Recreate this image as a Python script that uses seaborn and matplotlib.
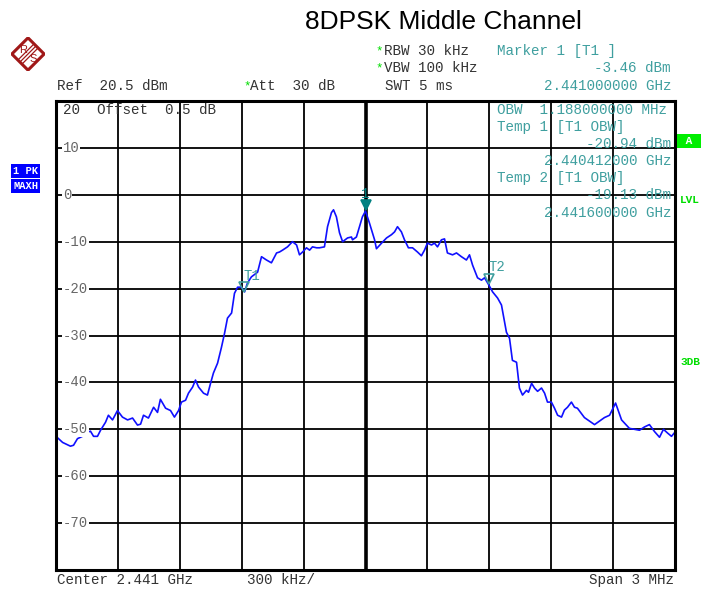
import numpy as np
import pandas as pd
import matplotlib
matplotlib.use("Agg")
import matplotlib.pyplot as plt
import matplotlib.patches as mpatches
import seaborn as sns

# trace: frequency offset from center (MHz) and level (dBm)
freq_offset_mhz = [
    -1.500, -1.468, -1.430, -1.415, -1.396, -1.372, -1.347, -1.333, -1.318, -1.299,
    -1.284, -1.260, -1.246, -1.226, -1.202, -1.178, -1.153, -1.129, -1.105, -1.090,
    -1.076, -1.052, -1.027, -1.008, -0.994, -0.969, -0.945, -0.926, -0.906, -0.892,
    -0.872, -0.858, -0.838, -0.824, -0.809, -0.785, -0.766, -0.751, -0.737, -0.717,
    -0.698, -0.683, -0.669, -0.649, -0.635, -0.620, -0.601, -0.586, -0.572, -0.553,
    -0.523, -0.504, -0.480, -0.456, -0.431, -0.417, -0.402, -0.378, -0.354, -0.334,
    -0.320, -0.305, -0.286, -0.271, -0.257, -0.237, -0.223, -0.199, -0.184, -0.165,
    -0.155, -0.141, -0.126, -0.111, -0.087, -0.068, -0.063, -0.044, -0.029, -0.015,
    0.000, 0.019, 0.044, 0.053, 0.078, 0.102, 0.126, 0.141, 0.155, 0.174,
    0.189, 0.208, 0.228, 0.252, 0.271, 0.286, 0.300, 0.320, 0.334, 0.349,
    0.368, 0.383, 0.397, 0.422, 0.441, 0.465, 0.489, 0.504, 0.519, 0.543,
    0.562, 0.577, 0.596, 0.616, 0.640, 0.659, 0.674, 0.683, 0.698, 0.712,
    0.732, 0.746, 0.761, 0.780, 0.790, 0.805, 0.819, 0.834, 0.853, 0.868,
    0.882, 0.901, 0.916, 0.931, 0.950, 0.964, 0.979, 0.998, 1.013, 1.027,
    1.061, 1.110, 1.158, 1.183, 1.212, 1.241, 1.279, 1.328, 1.352, 1.376,
    1.401, 1.425, 1.444, 1.464, 1.483, 1.500,
]
level_dbm = [
    -51.5, -52.8, -53.6, -53.4, -52.0, -51.5, -50.6, -50.4, -51.5, -51.5,
    -50.2, -48.5, -47.0, -48.0, -46.0, -47.4, -48.0, -47.6, -49.1, -48.9,
    -47.0, -47.6, -45.3, -46.4, -43.6, -45.5, -46.0, -47.4, -46.0, -44.2,
    -43.8, -42.3, -41.0, -39.5, -41.0, -42.3, -42.7, -40.2, -38.0, -35.9,
    -32.5, -29.5, -26.3, -25.2, -21.0, -19.7, -19.7, -20.7, -18.8, -17.5,
    -16.5, -13.2, -13.9, -14.5, -12.4, -12.2, -11.8, -11.1, -10.0, -10.7,
    -12.8, -12.2, -11.3, -11.8, -11.1, -11.3, -11.3, -11.1, -6.8, -3.8,
    -3.2, -4.7, -8.1, -10.0, -9.2, -9.0, -9.6, -9.0, -6.8, -4.7,
    -3.46, -6.0, -9.6, -11.5, -10.3, -9.2, -8.5, -7.9, -6.8, -7.9,
    -9.6, -11.3, -11.3, -12.2, -13.0, -11.8, -10.3, -10.7, -10.3, -11.1,
    -9.6, -9.4, -12.4, -12.8, -12.4, -13.2, -13.9, -12.8, -15.0, -17.7,
    -18.2, -17.7, -19.1, -20.7, -22.0, -23.5, -27.1, -29.3, -30.6, -35.3,
    -35.7, -41.2, -42.7, -41.7, -42.1, -40.2, -41.2, -41.9, -41.2, -42.3,
    -44.2, -44.2, -45.5, -47.0, -47.4, -45.9, -45.3, -44.2, -45.3, -45.5,
    -47.5, -49.0, -47.5, -47.0, -44.4, -48.0, -49.8, -50.2, -49.5, -49.0,
    -50.5, -51.7, -50.0, -50.8, -51.5, -50.6,
]

# markers: T1, 1, T2
marker_names = ["T1", "1", "T2"]
marker_offset_mhz = [-0.588, 0.0, 0.600]
marker_level_dbm = [-20.94, -3.46, -19.13]

y_ticks = [10, 0, -10, -20, -30, -40, -50, -60, -70]

trace = pd.DataFrame({"offset": freq_offset_mhz, "level": level_dbm})

sns.set_style("white")
mono = "Liberation Mono"
plt.rcParams["font.family"] = ["Liberation Sans", "DejaVu Sans"]

W, H = 704, 590
fig = plt.figure(figsize=(W / 100, H / 100), dpi=100)
ax = fig.add_axes([56 / W, 20 / H, 619 / W, 469 / H])

# grid
for x in np.linspace(-1.5, 1.5, 11)[1:-1]:
    ax.axvline(x, color="black", lw=2.6 if abs(x) < 1e-9 else 1.3, zorder=1)
for y in range(-70, 20, 10):
    ax.axhline(y, color="black", lw=1.3, zorder=1)

sns.lineplot(data=trace, x="offset", y="level", color="#1010ff", lw=1.2,
             ax=ax, zorder=3, estimator=None, sort=False)

ax.set_xlim(-1.5, 1.5)
ax.set_ylim(-80, 20)
ax.set_xticks([])
ax.set_yticks([])
ax.set_xlabel("")
ax.set_ylabel("")
for s in ax.spines.values():
    s.set_visible(True)
    s.set_color("black")
    s.set_linewidth(2.2)
    s.set_zorder(6)

teal = "#3f9f9f"
gray = "#333333"
for yv in y_ticks:
    ax.text(0.011, yv, str(yv), transform=ax.get_yaxis_transform(),
            ha="left", va="center", family=mono, fontsize=10, color="#666666", zorder=5,
            bbox=dict(facecolor="white", edgecolor="none", pad=0.6))

# markers
for name, mx, my in zip(marker_names, marker_offset_mhz, marker_level_dbm):
    filled = name == "1"
    col = "#008080" if filled else teal
    ax.plot(mx, my + 1.2, marker="v", ms=7, mfc=col if filled else "none", mec=col,
            mew=1.2, zorder=5)
    ax.text(mx - (0.005 if not filled else 0), my + 2.2, name,
            ha="center" if filled else "left", va="bottom", family=mono, fontsize=10,
            color=col, zorder=5)

# text inside grid
ax.text(7 / 619, 1 - 9 / 469, "20  Offset  0.5 dB", transform=ax.transAxes, family=mono,
        fontsize=10.3, color=gray, va="center", ha="left", zorder=4)

def ftext(x, y, s, **kw):
    kw.setdefault("family", mono)
    kw.setdefault("fontsize", 10.3)
    kw.setdefault("va", "center")
    fig.text(x / W, 1 - y / H, s, **kw)

obw_lines = [
    (497, 110, "OBW  1.188000000 MHz", "left"),
    (497, 127, "Temp 1 [T1 OBW]", "left"),
    (671, 144, "-20.94 dBm", "right"),
    (671, 161, "2.440412000 GHz", "right"),
    (497, 178, "Temp 2 [T1 OBW]", "left"),
    (671, 195, "-19.13 dBm", "right"),
    (671, 213, "2.441600000 GHz", "right"),
]
for x, y, s, ha in obw_lines:
    ftext(x, y, s, ha=ha, color=teal, zorder=4)

# header
ftext(443, 22, "8DPSK Middle Channel", family="Liberation Sans", fontsize=19, color="black",
      ha="center")
ftext(57, 86, "Ref  20.5 dBm", color=gray)
ftext(243, 86, "*", color="#00dd00", fontsize=9)
ftext(250, 86, "Att  30 dB", color=gray)
ftext(375, 51, "*", color="#00dd00", fontsize=9)
ftext(384, 51, "RBW 30 kHz", color=gray)
ftext(375, 68, "*", color="#00dd00", fontsize=9)
ftext(384, 68, "VBW 100 kHz", color=gray)
ftext(385, 86, "SWT 5 ms", color=gray)
ftext(497, 51, "Marker 1 [T1 ]", color=teal)
ftext(671, 68, "-3.46 dBm", color=teal, ha="right")
ftext(671, 86, "2.441000000 GHz", color=teal, ha="right")

# footer
ftext(57, 580, "Center 2.441 GHz", color=gray)
ftext(247, 580, "300 kHz/", color=gray)
ftext(674, 580, "Span 3 MHz", color=gray, ha="right")

# side badges
ftext(689, 141, " A ", color="white", fontsize=8, weight="bold", ha="center",
      bbox=dict(facecolor="#00ee00", edgecolor="none", pad=1.5))
ftext(680, 200, "LVL", color="#00dd00", fontsize=8, weight="bold")
ftext(680, 362, "3DB", color="#00dd00", fontsize=8, weight="bold")
ftext(13, 171, "1 PK", color="white", fontsize=7.5, weight="bold",
      bbox=dict(facecolor="#0000ff", edgecolor="none", pad=1.2))
ftext(13, 186, "MAXH", color="white", fontsize=7.5, weight="bold",
      bbox=dict(facecolor="#0000ff", edgecolor="none", pad=1.2))

# R&S logo
lax = fig.add_axes([11 / W, 1 - 71 / H, 34 / W, 34 / H])
lax.set_xlim(-1, 1)
lax.set_ylim(-1, 1)
lax.axis("off")
red = "#a01818"
lax.add_patch(mpatches.Polygon([[-0.95, 0], [0, 0.95], [0.95, 0], [0, -0.95]], closed=True,
                               fill=False, ec=red, lw=2.2))
for d in (-0.12, 0, 0.12):
    lax.plot([-0.47 + d, 0.47 + d], [-0.47 - d, 0.47 - d], color=red, lw=0.9)
lax.text(-0.28, 0.25, "R", color=red, family="Liberation Sans", fontsize=8, ha="center", va="center")
lax.text(0.3, -0.3, "S", color=red, family="Liberation Sans", fontsize=8, ha="center", va="center")

fig.savefig("out.png", dpi=100, facecolor="white")
